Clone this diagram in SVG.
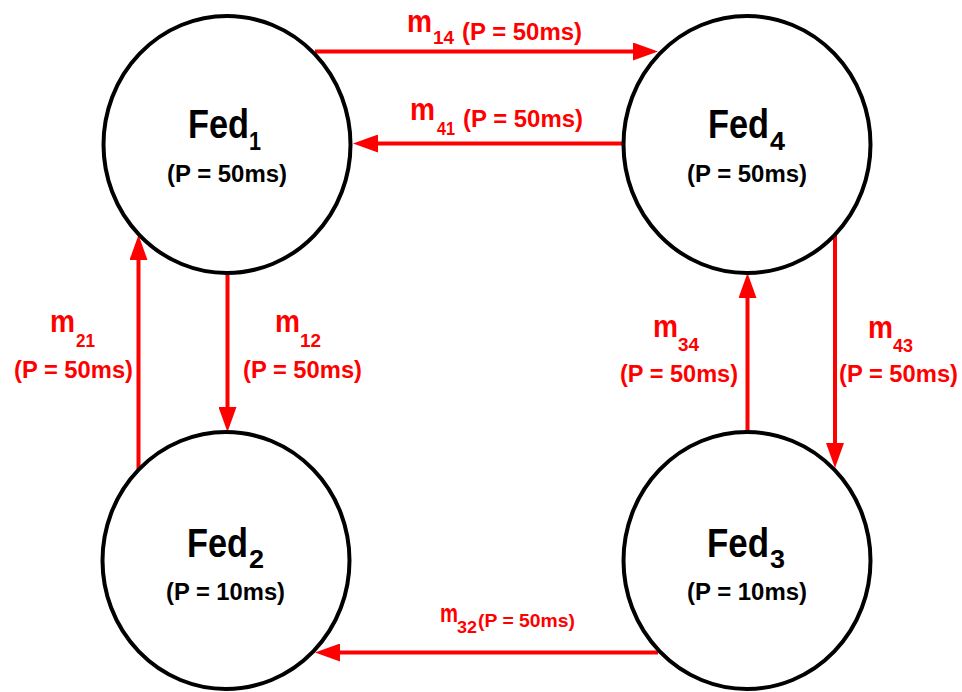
<svg xmlns="http://www.w3.org/2000/svg" width="962" height="692" viewBox="0 0 962 692">
<style>
.node{fill:#fff;stroke:#000;stroke-width:4}
.t{font-family:"Liberation Sans",Arial,sans-serif;font-weight:bold}
.k{fill:#000}
.r{fill:#ff0000}
.big{font-size:40px}
.nsub{font-size:25px}
.np{font-size:23px}
.m{font-size:32px}
.msub{font-size:18px}
.mp{font-size:23px}
.edge{stroke:#ff0000;stroke-width:4;fill:none;marker-end:url(#ah)}
</style>
<defs>
<marker id="ah" markerUnits="userSpaceOnUse" markerWidth="25" markerHeight="18" refX="12" refY="9" orient="auto">
<path d="M0,0 L25,9 L0,18 Z" fill="#ff0000"/>
</marker>
</defs>
<rect width="962" height="692" fill="#fff"/>
<g id="connectors">
<line class="edge" x1="315" y1="51.5" x2="645" y2="51.5"/>
<line class="edge" x1="623" y1="143.5" x2="366" y2="143.5"/>
<line class="edge" x1="227.5" y1="272" x2="227.5" y2="419"/>
<line class="edge" x1="138.5" y1="469" x2="138.5" y2="248"/>
<line class="edge" x1="747.5" y1="432" x2="747.5" y2="286"/>
<line class="edge" x1="835" y1="235" x2="835" y2="455"/>
<line class="edge" x1="658" y1="652.5" x2="328" y2="652.5"/>
</g>
<g id="labels">
<text class="t r m" x="407" y="32" textLength="25" lengthAdjust="spacingAndGlyphs">m</text>
<text class="t r msub" x="433" y="44" textLength="21" lengthAdjust="spacingAndGlyphs">14</text>
<text class="t r mp" x="462" y="39.5" textLength="120" lengthAdjust="spacingAndGlyphs">(P = 50ms)</text>

<text class="t r m" x="410" y="119.5" textLength="25" lengthAdjust="spacingAndGlyphs">m</text>
<text class="t r msub" x="437" y="135" textLength="18" lengthAdjust="spacingAndGlyphs">41</text>
<text class="t r mp" x="463" y="126.5" textLength="120" lengthAdjust="spacingAndGlyphs">(P = 50ms)</text>

<text class="t r m" x="50" y="331.5" textLength="25" lengthAdjust="spacingAndGlyphs">m</text>
<text class="t r msub" x="76" y="347" textLength="19" lengthAdjust="spacingAndGlyphs">21</text>
<text class="t r mp" x="14" y="378" textLength="119" lengthAdjust="spacingAndGlyphs">(P = 50ms)</text>

<text class="t r m" x="275" y="331.5" textLength="25" lengthAdjust="spacingAndGlyphs">m</text>
<text class="t r msub" x="300" y="347" textLength="21" lengthAdjust="spacingAndGlyphs">12</text>
<text class="t r mp" x="243" y="378" textLength="119" lengthAdjust="spacingAndGlyphs">(P = 50ms)</text>

<text class="t r m" x="653" y="336.5" textLength="25" lengthAdjust="spacingAndGlyphs">m</text>
<text class="t r msub" x="678" y="350.5" textLength="21" lengthAdjust="spacingAndGlyphs">34</text>
<text class="t r mp" x="620" y="381.5" textLength="118" lengthAdjust="spacingAndGlyphs">(P = 50ms)</text>

<text class="t r m" x="868" y="338" textLength="25" lengthAdjust="spacingAndGlyphs">m</text>
<text class="t r msub" x="893" y="351.5" textLength="20" lengthAdjust="spacingAndGlyphs">43</text>
<text class="t r mp" x="839" y="381.5" textLength="119" lengthAdjust="spacingAndGlyphs">(P = 50ms)</text>

<text class="t r" font-size="25" x="440" y="621.5" textLength="18" lengthAdjust="spacingAndGlyphs">m</text>
<text class="t r" font-size="16" x="457" y="633" textLength="20" lengthAdjust="spacingAndGlyphs">32</text>
<text class="t r" font-size="19" x="478" y="626.5" textLength="97" lengthAdjust="spacingAndGlyphs">(P = 50ms)</text>
</g>
<g id="fed1">
<ellipse class="node" cx="227" cy="144.5" rx="123.5" ry="128.5"/>
<text class="t k big" x="188" y="138" textLength="61" lengthAdjust="spacingAndGlyphs">Fed</text>
<text class="t k nsub" x="249" y="150" textLength="12" lengthAdjust="spacingAndGlyphs">1</text>
<text class="t k np" x="167" y="182" textLength="120" lengthAdjust="spacingAndGlyphs">(P = 50ms)</text>
</g>
<g id="fed4">
<ellipse class="node" cx="747" cy="144.5" rx="123.5" ry="128.5"/>
<text class="t k big" x="708" y="138" textLength="61" lengthAdjust="spacingAndGlyphs">Fed</text>
<text class="t k nsub" x="770" y="150" textLength="15" lengthAdjust="spacingAndGlyphs">4</text>
<text class="t k np" x="687" y="182" textLength="120" lengthAdjust="spacingAndGlyphs">(P = 50ms)</text>
</g>
<g id="fed2">
<ellipse class="node" cx="226" cy="560.5" rx="123.5" ry="128.5"/>
<text class="t k big" x="187" y="556.5" textLength="61" lengthAdjust="spacingAndGlyphs">Fed</text>
<text class="t k nsub" x="249" y="568" textLength="15" lengthAdjust="spacingAndGlyphs">2</text>
<text class="t k np" x="166" y="600" textLength="119" lengthAdjust="spacingAndGlyphs">(P = 10ms)</text>
</g>
<g id="fed3">
<ellipse class="node" cx="747" cy="560.5" rx="123.5" ry="128.5"/>
<text class="t k big" x="707" y="556.5" textLength="62" lengthAdjust="spacingAndGlyphs">Fed</text>
<text class="t k nsub" x="770" y="568" textLength="15" lengthAdjust="spacingAndGlyphs">3</text>
<text class="t k np" x="687" y="600" textLength="120" lengthAdjust="spacingAndGlyphs">(P = 10ms)</text>
</g>
</svg>
